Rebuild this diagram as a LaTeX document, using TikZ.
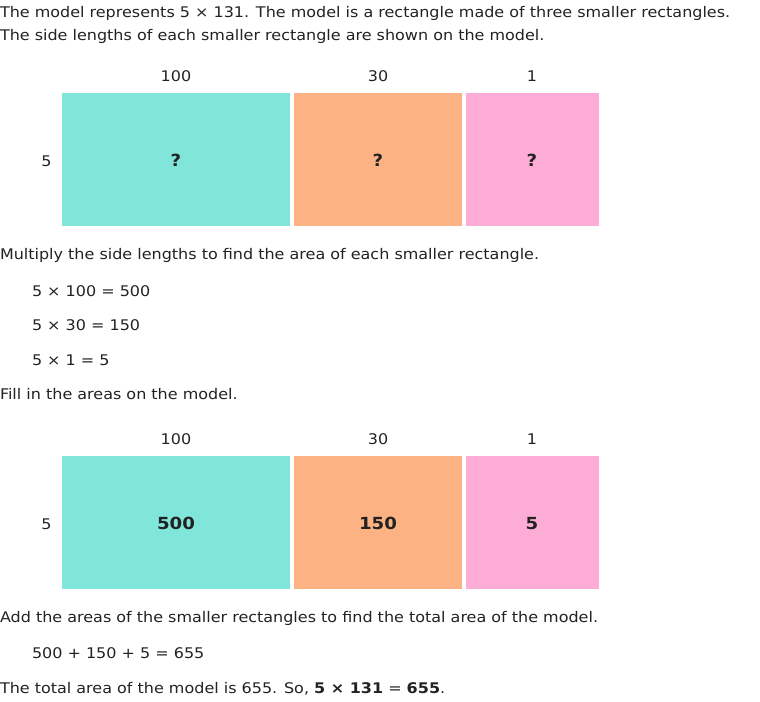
\documentclass[tikz,border=0pt]{standalone}
\usepackage{fontspec}
\setmainfont[FakeStretch=1.09]{DejaVu Sans}
\definecolor{txt}{HTML}{222222}
\definecolor{teal}{HTML}{7FE6D9}
\definecolor{orng}{HTML}{FCB282}
\definecolor{pnk}{HTML}{FDADD5}
\begin{document}
\begin{tikzpicture}[x=0.75pt,y=-0.75pt,
  every node/.style={inner sep=0pt,outer sep=0pt,text=txt,font=\fontsize{11pt}{13pt}\selectfont},
  para/.style={anchor=base west},
  lbl/.style={anchor=base},
  val/.style={anchor=base,font=\fontsize{12.5pt}{14pt}\selectfont\bfseries}]
\useasboundingbox (0,0) rectangle (760,701);
\node[para] (t1) at (0,17) {The model represents 5 × 131. The model is a rectangle made of three smaller rectangles.};
\node[para] (t2) at (0,40) {The side lengths of each smaller rectangle are shown on the model.};
% model 1
\fill[teal] (62,93) rectangle (290,226);
\fill[orng] (294,93) rectangle (462,226);
\fill[pnk] (466,93) rectangle (599,226);
\node[lbl] (a100) at (176,81) {100};
\node[lbl] (a30) at (378,81) {30};
\node[lbl] (a1) at (532,81) {1};
\node[lbl] (a5) at (46.5,166) {5};
\node[val] (q1) at (176,166) {?};
\node[val] (q2) at (378,166) {?};
\node[val] (q3) at (532,166) {?};
\node[para] (t3) at (0,259) {Multiply the side lengths to find the area of each smaller rectangle.};
\node[para] (e1) at (32,296) {5 × 100 = 500};
\node[para] (e2) at (32,330) {5 × 30 = 150};
\node[para] (e3) at (32,365) {5 × 1 = 5};
\node[para] (t4) at (0,399) {Fill in the areas on the model.};
% model 2
\fill[teal] (62,456) rectangle (290,589);
\fill[orng] (294,456) rectangle (462,589);
\fill[pnk] (466,456) rectangle (599,589);
\node[lbl] (b100) at (176,444) {100};
\node[lbl] (b30) at (378,444) {30};
\node[lbl] (b1) at (532,444) {1};
\node[lbl] (b5) at (46.5,529) {5};
\node[val] (v1) at (176,529) {500};
\node[val] (v2) at (378,529) {150};
\node[val] (v3) at (532,529) {5};
\node[para] (t5) at (0,622) {Add the areas of the smaller rectangles to find the total area of the model.};
\node[para] (e4) at (32,658) {500 + 150 + 5 = 655};
\node[para] (t6) at (0,693) {The total area of the model is 655. So, \textbf{5 × 131} = \textbf{655}.};
\end{tikzpicture}
\end{document}
